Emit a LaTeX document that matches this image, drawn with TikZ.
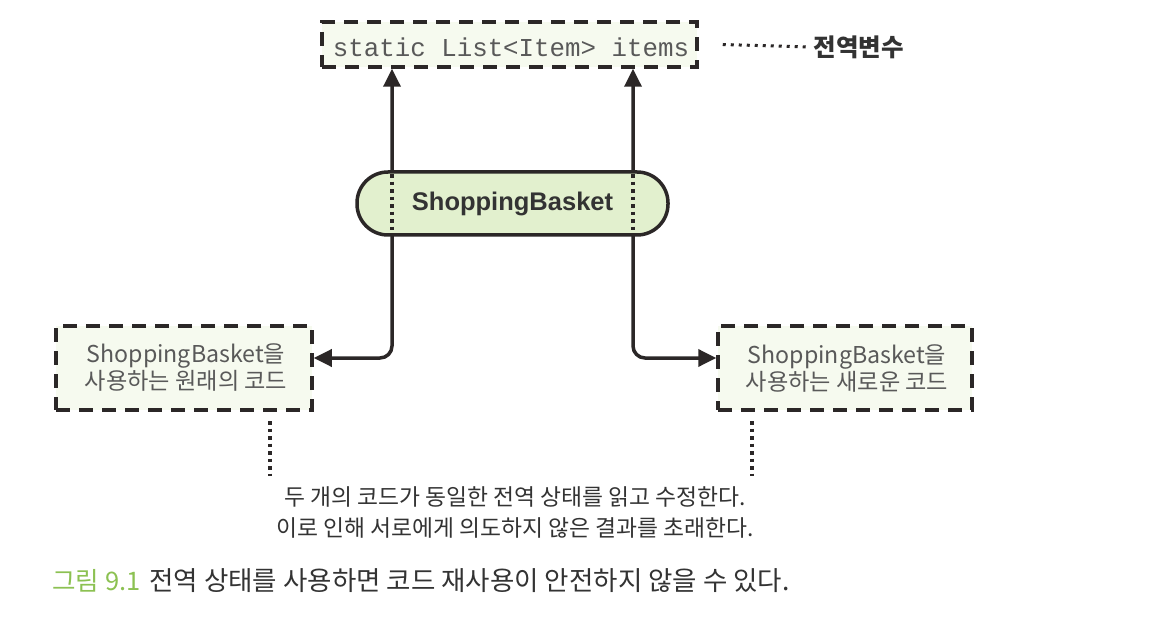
\documentclass[tikz,border=0pt]{standalone}
\usepackage{fontspec}
\setmainfont{Liberation Sans}
\newfontfamily\kr{Noto Sans CJK KR}
\newfontfamily\mono{Liberation Mono}
\usetikzlibrary{arrows.meta}
\definecolor{ink}{HTML}{2B2727}
\definecolor{boxfill}{HTML}{F6FAEF}
\definecolor{pillfill}{HTML}{E2F0CE}
\definecolor{txtgray}{HTML}{595959}
\definecolor{txtdark}{HTML}{333333}
\definecolor{capgreen}{HTML}{8CC152}
\tikzset{
  dashbox/.style={draw=ink, fill=boxfill, line width=3.5pt, dash pattern=on 14pt off 9pt, inner sep=0pt},
  pillbox/.style={draw=ink, fill=pillfill, line width=3.5pt, rounded corners=31pt, inner sep=0pt},
  conn/.style={draw=ink, line width=3.5pt, rounded corners=12pt, {Triangle[length=18pt,width=17pt]}-{Triangle[length=18pt,width=17pt]}},
  dotline/.style={draw=ink, line width=3.5pt, dash pattern=on 3.5pt off 4pt},
  smalldot/.style={draw=ink, line width=3pt, dash pattern=on 3pt off 5pt},
  boxtext/.style={font=\kr\fontsize{23.2}{27}\selectfont, text=txtgray, align=center},
}
\begin{document}
\begin{tikzpicture}[x=1pt,y=-1pt]
\useasboundingbox[fill=white] (0,0) rectangle (1174,644);
% nodes
\node[dashbox, minimum width=375pt, minimum height=45pt] (topbox) at (509.5,44.5) {};
\node[font=\mono\fontsize{25.8}{26}\selectfont, text=txtgray] (toptext) at (511,47) {static List<Item> items};
\node[font=\kr\bfseries\fontsize{24.5}{24}\selectfont, text=txtdark, anchor=west] (glob) at (810,47) {전역변수};
\node[dashbox, minimum width=256pt, minimum height=84pt] (leftbox) at (184,368) {};
\node[boxtext] (lefttext) at (186,368) {ShoppingBasket을\\사용하는 원래의 코드};
\node[dashbox, minimum width=254pt, minimum height=84pt] (rightbox) at (845,368) {};
\node[boxtext] (righttext) at (847,368) {ShoppingBasket을\\사용하는 새로운 코드};
% connectors
\coordinate (lx) at (392,358);
\coordinate (rx) at (633,358);
\draw[conn] (topbox.south -| lx) |- (leftbox.east |- lx);
\draw[conn] (topbox.south -| rx) |- (rightbox.west |- rx);
% pill on top
\node[pillbox, minimum width=311pt, minimum height=63pt] (pill) at (512.5,203.5) {};
\node[font=\bfseries\fontsize{25.5}{26}\selectfont, text=txtdark] (pilltext) at (512.5,203.5) {ShoppingBasket};
\draw[dotline] ([yshift=-4pt]pill.north -| lx) -- ([yshift=4pt]pill.south -| lx);
\draw[dotline] ([yshift=-4pt]pill.north -| rx) -- ([yshift=4pt]pill.south -| rx);
% label dotted line
\draw[smalldot] ([xshift=24pt]topbox.east) -- ([xshift=-2pt]glob.west);
% annotation
\node[font=\kr\fontsize{22.8}{31}\selectfont, text=txtdark, align=center] (note) at (515,512) {두 개의 코드가 동일한 전역 상태를 읽고 수정한다.\\이로 인해 서로에게 의도하지 않은 결과를 초래한다.};
\coordinate (d1a) at (270,421);
\coordinate (d1b) at (270,476);
\coordinate (d2a) at (752,421);
\coordinate (d2b) at (752,476);
\draw[dotline] (d1a) -- (d1b);
\draw[dotline] (d2a) -- (d2b);
% caption
\node[font=\kr\fontsize{25.5}{26}\selectfont, text=capgreen, anchor=west] (capnum) at (49,581) {그림 9.1};
\node[font=\kr\fontsize{26.5}{28}\selectfont, text=txtdark, anchor=west] (captxt) at (146,581) {전역 상태를 사용하면 코드 재사용이 안전하지 않을 수 있다.};
\end{tikzpicture}
\end{document}
